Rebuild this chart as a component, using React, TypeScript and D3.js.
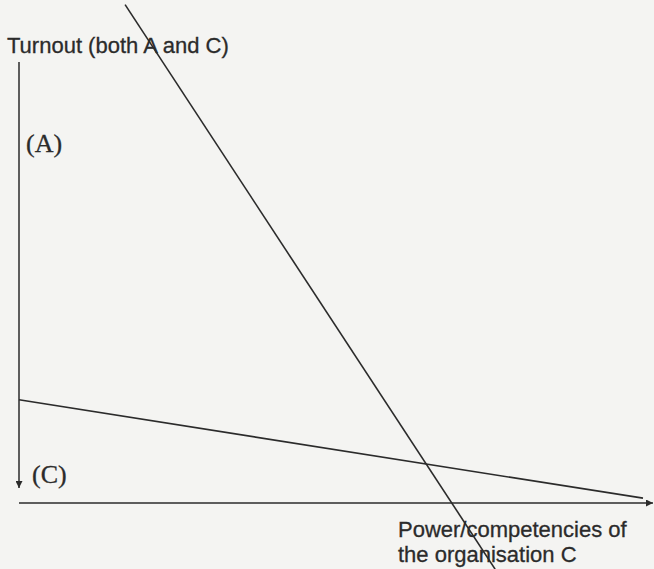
import { useEffect, useRef } from "react";
import * as d3 from "d3";

const lineNames = ["A", "C"];
const lineA = [
  { x: 17.0, y: 113.0 },
  { x: 76.3, y: -15.0 },
];
const lineC = [
  { x: 0, y: 23.4 },
  { x: 100, y: 1.1 },
];
const yAxisTitle = "Turnout (both A and C)";
const xAxisTitle = ["Power/competencies of", "the organisation C"];
const seriesLabels = ["(A)", "(C)"];

const W = 654;
const H = 569;
const INK = "#2b2b2b";

const App = () => {
  const ref = useRef<SVGSVGElement>(null);

  useEffect(() => {
    const svg = d3.select(ref.current);
    svg.selectAll("*").remove();

    svg.append("rect").attr("width", W).attr("height", H).attr("fill", "#f4f4f2");

    const x = d3.scaleLinear().domain([0, 100]).range([19, 643]);
    const y = d3.scaleLinear().domain([0, 100]).range([503, 62]);

    const defs = svg.append("defs");
    defs
      .append("marker")
      .attr("id", "arrow")
      .attr("viewBox", "0 0 10 10")
      .attr("refX", 10)
      .attr("refY", 5)
      .attr("markerWidth", 7)
      .attr("markerHeight", 7)
      .attr("markerUnits", "userSpaceOnUse")
      .attr("orient", "auto")
      .append("path")
      .attr("d", "M0,0 L10,5 L0,10 Z")
      .attr("fill", INK);

    // vertical axis, arrow pointing down
    svg
      .append("line")
      .attr("x1", x(0))
      .attr("y1", y(100))
      .attr("x2", x(0))
      .attr("y2", y(3.4))
      .attr("stroke", INK)
      .attr("stroke-width", 1.5)
      .attr("marker-end", "url(#arrow)");

    // horizontal axis, arrow pointing right
    svg
      .append("line")
      .attr("x1", x(0))
      .attr("y1", y(0))
      .attr("x2", x(101.6))
      .attr("y2", y(0))
      .attr("stroke", INK)
      .attr("stroke-width", 1.5)
      .attr("marker-end", "url(#arrow)");

    const line = d3
      .line<{ x: number; y: number }>()
      .x((d) => x(d.x))
      .y((d) => y(d.y));

    svg
      .selectAll("path.series")
      .data([lineA, lineC])
      .join("path")
      .attr("class", "series")
      .attr("id", (_, i) => "line" + lineNames[i])
      .attr("d", line)
      .attr("fill", "none")
      .attr("stroke", INK)
      .attr("stroke-width", 1.6);

    const sans = "Liberation Sans, Arial, sans-serif";

    svg
      .append("text")
      .attr("x", 7)
      .attr("y", 53)
      .attr("font-family", sans)
      .attr("font-size", 22)
      .attr("fill", INK)
      .attr("stroke", INK)
      .attr("stroke-width", 0.3)
      .text(yAxisTitle);

    svg
      .selectAll("text.xt")
      .data(xAxisTitle)
      .join("text")
      .attr("class", "xt")
      .attr("x", 398)
      .attr("y", (_, i) => 537 + i * 24.5)
      .attr("font-family", sans)
      .attr("font-size", 22)
      .attr("fill", INK)
      .attr("stroke", INK)
      .attr("stroke-width", 0.3)
      .text((d) => d);

    svg
      .selectAll("text.sl")
      .data(seriesLabels)
      .join("text")
      .attr("class", "sl")
      .attr("x", (_, i) => (i === 0 ? 26 : 32))
      .attr("y", (_, i) => (i === 0 ? 152 : 483))
      .attr("font-family", "Liberation Serif, Times New Roman, serif")
      .attr("font-size", 26)
      .attr("fill", INK)
      .attr("stroke", INK)
      .attr("stroke-width", 0.3)
      .text((d) => d);
  }, []);

  return (
    <svg
      ref={ref}
      width={W}
      height={H}
      style={{ position: "absolute", left: 0, top: 0, display: "block" }}
      viewBox={`0 0 ${W} ${H}`}
    ></svg>
  );
};

export default App;
